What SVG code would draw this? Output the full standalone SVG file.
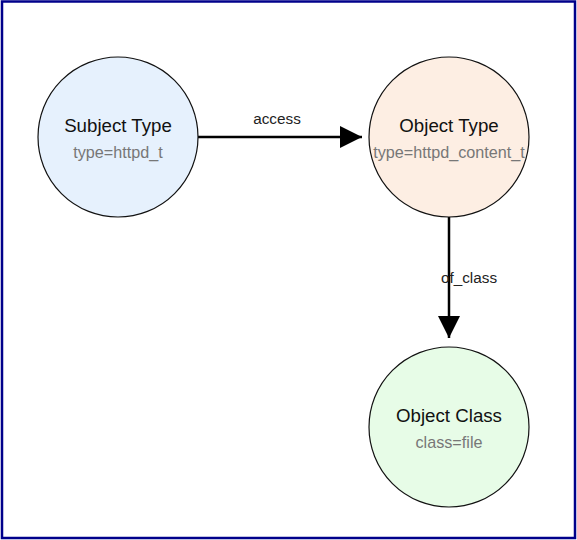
<svg xmlns="http://www.w3.org/2000/svg" width="577" height="540" viewBox="0 0 577 540">
<style>
.node{stroke:#111;stroke-width:1.2}
.t{font-family:"Liberation Sans",Arial,sans-serif;font-size:18.7px;fill:#111;text-anchor:middle}
.s{font-family:"Liberation Sans",Arial,sans-serif;font-size:16.2px;fill:#777;text-anchor:middle}
.l{font-family:"Liberation Sans",Arial,sans-serif;font-size:15.3px;fill:#222;text-anchor:middle}
.e{stroke:#000;stroke-width:2.5;fill:none}
</style>
<defs>
<marker id="ah" viewBox="0 0 10 10" refX="10" refY="5" markerUnits="userSpaceOnUse" markerWidth="29" markerHeight="22" orient="auto">
<path d="M0,0 L10,5 L0,10 Z" fill="#000"/>
</marker>
</defs>
<rect x="0" y="0" width="577" height="540" fill="#fff"/>
<rect x="2" y="1.5" width="573" height="536.5" fill="none" stroke="#00008b" stroke-width="2.5"/>
<g id="connectors">
<line class="e" x1="198" y1="137" x2="362" y2="137" marker-end="url(#ah)"/>
<text class="l" x="277" y="124">access</text>
<line class="e" x1="449" y1="217" x2="449" y2="338" marker-end="url(#ah)"/>
<text class="l" x="469" y="283">of_class</text>
</g>
<g id="subject">
<circle class="node" cx="118" cy="137" r="80" fill="#e6f1fd"/>
<text class="t" x="118" y="132">Subject Type</text>
<text class="s" x="118" y="158">type=httpd_t</text>
</g>
<g id="object">
<circle class="node" cx="449" cy="137" r="80" fill="#fdeee3"/>
<text class="t" x="449" y="132">Object Type</text>
<text class="s" x="449" y="158">type=httpd_content_t</text>
</g>
<g id="class">
<circle class="node" cx="449" cy="427" r="80" fill="#e7fce7"/>
<text class="t" x="449" y="422">Object Class</text>
<text class="s" x="449" y="448">class=file</text>
</g>
</svg>
